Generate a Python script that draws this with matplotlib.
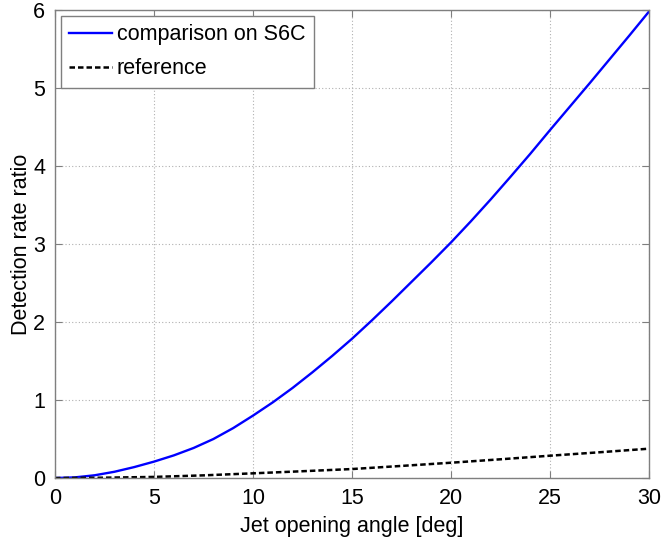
import matplotlib
matplotlib.use("Agg")
import matplotlib.pyplot as plt

angle = list(range(0, 31))
comparison = [0, 0.008, 0.035, 0.08, 0.14, 0.21, 0.29, 0.385, 0.50, 0.64, 0.80,
              0.97, 1.155, 1.355, 1.565, 1.785, 2.02, 2.263, 2.513, 2.763, 3.02,
              3.29, 3.57, 3.86, 4.155, 4.46, 4.76, 5.06, 5.365, 5.67, 5.98]
ref_angle = [0, 2.5, 5, 7.5, 10, 12.5, 15, 17.5, 20, 22.5, 25, 27.5, 30]
reference = [0, 0.004, 0.014, 0.034, 0.06, 0.087, 0.115, 0.155, 0.196, 0.24, 0.286, 0.33, 0.376]

xticks = [0, 5, 10, 15, 20, 25, 30]
yticks = [0, 1, 2, 3, 4, 5, 6]

plt.rcParams['font.family'] = ['Liberation Sans', 'DejaVu Sans']
FS = 15.5

fig = plt.figure(figsize=(6.61, 5.44), dpi=100)
ax = fig.add_axes([0.0832, 0.1213, 0.8986, 0.8603])

ax.plot(angle, comparison, color='#0000ff', lw=1.7, label='comparison on S6C')
ax.plot(ref_angle, reference, color='black', lw=1.8, ls=(0, (2.2, 1.2)), label='reference')

ax.set_xlim(0, 30)
ax.set_ylim(0, 6)
ax.set_xticks(xticks)
ax.set_yticks(yticks)
ax.tick_params(direction='in', top=True, right=True, labelsize=FS, length=5,
               color='#7f7f7f', pad=7)
for s in ax.spines.values():
    s.set_color('#7f7f7f')
    s.set_linewidth(1.0)
ax.grid(True, color='#b0b0b0', ls=(0, (1, 2)), lw=0.8)

ax.set_xlabel('Jet opening angle [deg]', fontsize=FS, labelpad=5)
ax.set_ylabel('Detection rate ratio', fontsize=FS, labelpad=0.5)

leg = ax.legend(loc='upper left', fontsize=FS, fancybox=False, framealpha=1,
                edgecolor='#7f7f7f', handlelength=2.0, handletextpad=0.2,
                borderaxespad=0.27, borderpad=0.4, labelspacing=0.6)
leg.get_frame().set_linewidth(1.0)

fig.savefig('out.png', dpi=100)
